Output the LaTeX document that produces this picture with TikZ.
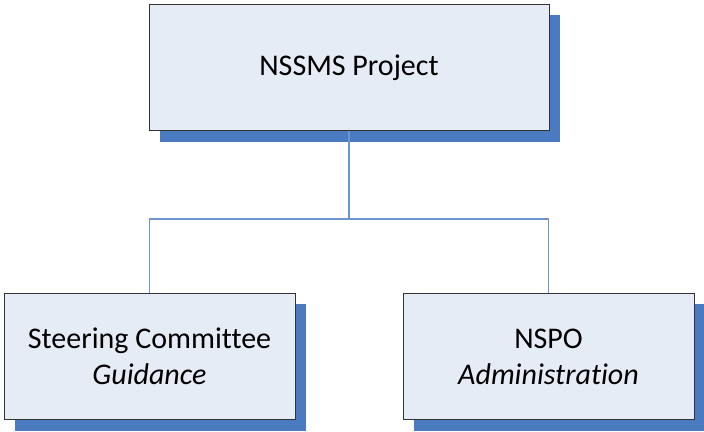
\documentclass[tikz,border=0pt]{standalone}
\usepackage{fontspec}
\setmainfont[Ligatures={NoCommon}]{Carlito}
\definecolor{boxfill}{HTML}{E6ECF6}
\definecolor{shadowblue}{HTML}{4A7BC0}
\definecolor{linkblue}{HTML}{6F95CE}
\begin{document}
\begin{tikzpicture}[x=1pt,y=-1pt,
  orgbox/.style={draw=black!80,line width=0.9pt,fill=boxfill,minimum width=#1,
    minimum height=126pt,inner sep=0pt,align=center,font=\fontsize{30}{36}\selectfont},
  shadowbox/.style={fill=shadowblue,draw=none},
  link/.style={draw=linkblue,line width=1.3pt}]
\useasboundingbox (0,0) rectangle (704,431);
% shadows
\fill[shadowbox] (160,15) rectangle (560,142);
\fill[shadowbox] (15,304) rectangle (306,431);
\fill[shadowbox] (414,304) rectangle (704,431);
% boxes
\node[orgbox=400pt] (top) at (349,67.5) {NSSMS Project};
\node[orgbox=291pt] (sc) at (149.5,356.5) {Steering Committee\\\textit{Guidance}};
\node[orgbox=291pt] (nspo) at (548.5,356.5) {NSPO\\\textit{Administration}};
\coordinate (mid) at (349,219);
\draw[link] (top.south) -- (mid);
\draw[link] (sc.north) |- (mid) -| (nspo.north);
\end{tikzpicture}
\end{document}
